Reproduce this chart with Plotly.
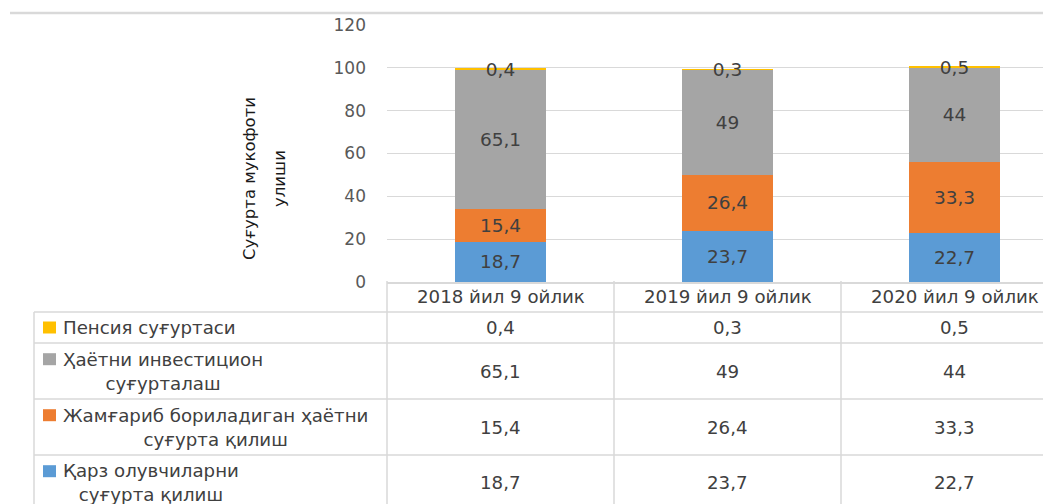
import plotly.graph_objects as go

categories = ["2018 йил 9 ойлик", "2019 йил 9 ойлик", "2020 йил 9 ойлик"]

# series, bottom to top of the stack
series_names = [
    "Қарз олувчиларни суғурта қилиш",
    "Жамғариб бориладиган ҳаётни суғурта қилиш",
    "Ҳаётни инвестицион суғурталаш",
    "Пенсия суғуртаси",
]
table_labels = [
    "Қарз олувчиларни<br>суғурта қилиш",
    "Жамғариб бориладиган ҳаётни<br>суғурта қилиш",
    "Ҳаётни инвестицион<br>суғурталаш",
    "Пенсия суғуртаси",
]
karz = [18.7, 23.7, 22.7]
jamgarib = [15.4, 26.4, 33.3]
investitsion = [65.1, 49, 44]
pensiya = [0.4, 0.3, 0.5]
values = [karz, jamgarib, investitsion, pensiya]
colors = ["#5B9BD5", "#ED7D31", "#A5A5A5", "#FFC000"]

y_title_lines = ["Суғурта мукофоти", "улиши"]
y_ticks = [0, 20, 40, 60, 80, 100, 120]

FONT = "DejaVu Sans"
TXT = "#404040"
GRID = "#D9D9D9"
TABLE_SIZE = 18.2


def fmt(v):
    return f"{v:g}".replace(".", ",")


# the page body adds an 8px offset; geometry below is in screen pixels
OFF = 8
WIDTH, HEIGHT = 1051 - OFF, 504 - OFF
L, R, T, B = 387, 1051, 25, 282          # plot area, screen pixels
PW, PH = R - L, B - T
CAT_W = 227
x_range = [-0.5, -0.5 + PW / CAT_W]


def px(x):
    return (x - L) / PW


def py(y):
    return (B - y) / PH


fig = go.Figure()
for name, vals, col in zip(series_names, values, colors):
    fig.add_trace(go.Bar(
        x=categories, y=vals, name=name,
        marker=dict(color=col, line=dict(width=0)),
        text=[fmt(v) for v in vals],
        textposition="inside", insidetextanchor="middle",
        textangle=0, constraintext="none",
        textfont=dict(family=FONT, size=18.5, color=TXT),
        hoverinfo="skip",
    ))

shapes = []
annotations = []

# top border line (cropped title region)
shapes.append(dict(type="line", xref="paper", yref="paper",
                   x0=px(10), x1=1, y0=py(13), y1=py(13),
                   line=dict(color=GRID, width=2.5)))

# table geometry
row_edges = [312, 343, 399, 455, 511]
for yy in row_edges[:-1]:
    shapes.append(dict(type="line", xref="paper", yref="paper",
                       x0=px(34), x1=1, y0=py(yy), y1=py(yy),
                       line=dict(color=GRID, width=1.5)))
shapes.append(dict(type="line", xref="paper", yref="paper",
                   x0=px(34), x1=px(34), y0=py(312), y1=py(504),
                   line=dict(color=GRID, width=1.5)))
for k in range(len(categories)):
    xb = L + k * CAT_W
    shapes.append(dict(type="line", xref="paper", yref="paper",
                       x0=px(xb), x1=px(xb), y0=py(281), y1=py(504),
                       line=dict(color=GRID, width=1.5)))

# header row
for c in categories:
    annotations.append(dict(x=c, xref="x", y=py(296.5), yref="paper",
                            text=c, showarrow=False, xanchor="center", yanchor="middle",
                            font=dict(family=FONT, size=TABLE_SIZE, color=TXT)))

# table rows (top to bottom = reverse stack order)
order = list(range(len(series_names)))[::-1]
for r, si in enumerate(order):
    top, bot = row_edges[r], row_edges[r + 1]
    yc = (top + bot) / 2
    nlines = table_labels[si].count("<br>") + 1
    first_line = yc - (nlines - 1) * 11.8
    shapes.append(dict(type="rect", xref="paper", yref="paper",
                       x0=px(43), x1=px(56), y0=py(first_line - 6), y1=py(first_line + 6),
                       fillcolor=colors[si], line=dict(width=0)))
    annotations.append(dict(x=px(61), xref="paper", y=py(yc), yref="paper",
                            text=table_labels[si], showarrow=False,
                            xanchor="left", yanchor="middle", align="center",
                            font=dict(family=FONT, size=TABLE_SIZE, color=TXT)))
    for c, v in zip(categories, values[si]):
        annotations.append(dict(x=c, xref="x", y=py(yc), yref="paper",
                                text=fmt(v), showarrow=False,
                                xanchor="center", yanchor="middle",
                                font=dict(family=FONT, size=TABLE_SIZE, color=TXT)))

# y axis title (two rotated lines)
for line_text, xc in zip(y_title_lines, [249, 279]):
    annotations.append(dict(x=px(xc), xref="paper", y=py(179), yref="paper",
                            text=line_text, showarrow=False, textangle=-90,
                            xanchor="center", yanchor="middle",
                            font=dict(family=FONT, size=16.5, color="#1A1A1A")))

fig.update_layout(
    width=WIDTH, height=HEIGHT,
    margin=dict(l=L - OFF, r=WIDTH - (R - OFF), t=T - OFF, b=HEIGHT - (B - OFF), pad=0),
    barmode="stack", bargap=0.6,
    plot_bgcolor="white", paper_bgcolor="white",
    showlegend=False,
    shapes=shapes, annotations=annotations,
    font=dict(family=FONT),
    xaxis=dict(type="category", range=x_range, showticklabels=False, showgrid=False,
               showline=True, linecolor=GRID, linewidth=1.5, zeroline=False, fixedrange=True),
    yaxis=dict(range=[0, 120], tickvals=y_ticks, showgrid=True, gridcolor=GRID, gridwidth=1,
               zeroline=False, showline=False, ticks="", ticklabelstandoff=20,
               tickfont=dict(family=FONT, size=17, color="#595959"), fixedrange=True),
)

fig.write_html("out.html")
